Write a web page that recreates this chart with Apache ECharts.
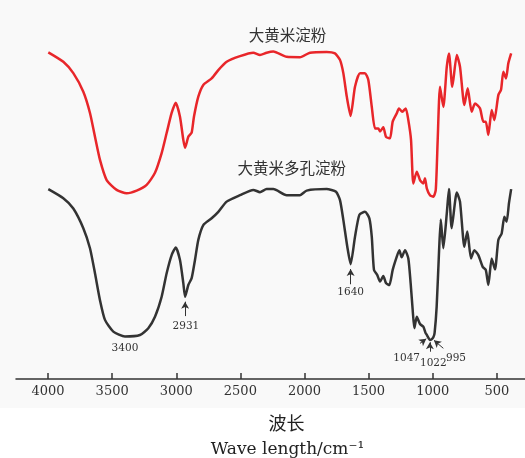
<!DOCTYPE html>
<html>
<head>
<meta charset="utf-8">
<script src="https://cdn.jsdelivr.net/npm/echarts@6/dist/echarts.min.js"></script>
<style>
  html, body { margin: 0; padding: 0; background: #fff; }
  #chart { width: 525px; height: 458px; }
</style>
</head>
<body>
<div id="chart"></div>
<script>
// FTIR spectra: [wavenumber (cm-1), relative transmittance]
const nativeStarch = [
  [3998,86.2],[3881,83.7],[3803,80.7],[3725,75.8],[3673,70.2],[3634,63.9],[3595,57.8],[3543,52.5],
  [3465,49.9],[3387,49.0],[3309,49.7],[3231,51.2],[3166,54.4],[3114,59.6],[3075,64.9],[3036,70.2],
  [3004,72.9],[2971,69.2],[2945,63.1],[2931,61.0],[2906,63.9],[2880,65.0],[2862,69.2],[2828,74.5],
  [2789,77.6],[2724,79.3],[2672,81.5],[2607,83.7],[2503,85.2],[2399,86.1],[2347,85.5],[2295,86.1],
  [2243,86.4],[2139,85.0],[2035,84.9],[1957,86.1],[1827,86.3],[1762,85.9],[1723,84.2],[1697,80.7],
  [1670,74.5],[1640,69.4],[1606,77.1],[1567,80.7],[1528,80.7],[1502,78.9],[1475,71.8],[1450,66.1],
  [1424,66.1],[1411,65.3],[1385,66.4],[1364,63.9],[1333,63.5],[1312,67.9],[1280,70.1],[1263,71.4],
  [1237,70.5],[1210,71.4],[1190,68.3],[1169,63.1],[1151,51.6],[1124,54.7],[1099,52.5],[1073,51.6],
  [1060,53.0],[1046,50.3],[1021,48.5],[995,48.1],[976,49.9],[961,63.1],[943,77.1],[917,71.8],
  [890,82.4],[873,85.9],[847,77.1],[812,85.5],[787,82.4],[753,72.3],[727,76.7],[696,70.5],
  [670,72.7],[631,71.4],[605,67.9],[586,67.9],[566,64.4],[540,71.0],[519,68.3],[488,74.9],
  [467,76.3],[449,81.1],[428,79.3],[410,83.3],[388,85.9]
];

const porousStarch = [
  [3998,50.1],[3881,47.7],[3803,45.0],[3725,39.8],[3673,34.5],[3634,27.9],[3595,20.8],[3556,15.6],
  [3491,12.5],[3400,11.2],[3283,11.6],[3218,13.4],[3166,16.4],[3114,21.7],[3075,27.9],[3036,32.7],
  [3004,34.7],[2971,31.4],[2945,25.3],[2931,21.7],[2906,24.8],[2880,26.6],[2854,31.4],[2828,36.7],
  [2789,40.6],[2724,42.4],[2672,44.1],[2607,46.8],[2503,48.5],[2399,49.9],[2347,49.3],[2295,50.1],
  [2243,50.1],[2139,48.5],[2035,48.5],[1983,49.7],[1827,50.1],[1754,49.4],[1723,47.2],[1697,42.0],
  [1666,34.9],[1640,30.3],[1606,37.5],[1572,43.3],[1528,44.1],[1494,42.4],[1475,37.5],[1458,28.8],
  [1432,27.4],[1411,25.7],[1385,27.2],[1364,25.3],[1338,24.8],[1312,28.8],[1280,32.3],[1260,34.0],
  [1242,32.1],[1216,34.0],[1190,31.8],[1172,25.3],[1156,18.2],[1143,13.4],[1124,16.4],[1099,14.5],
  [1073,13.8],[1055,12.1],[1047,11.7],[1034,10.9],[1022,10.3],[1008,10.5],[995,11.0],[985,12.2],
  [969,19.1],[951,33.2],[937,42.1],[917,34.5],[890,43.7],[873,50.1],[852,39.8],[812,49.2],
  [787,46.8],[753,34.9],[730,38.9],[701,31.8],[675,34.0],[644,32.7],[610,29.6],[586,28.8],
  [566,24.8],[540,31.8],[514,28.9],[488,36.7],[462,38.4],[441,42.8],[423,41.5],[405,46.4],[388,50.1]
];

const wavenumberTicks = [4000, 3500, 3000, 2500, 2000, 1500, 1000, 500];
const seriesNames = ['大黄米淀粉', '大黄米多孔淀粉'];
const porousBands = [3400, 2931, 1640, 1047, 1022, 995];

// Placement of band annotations in data space: label anchor and optional arrow (from -> tip)
const bandLayout = {
  3400: { label: [3400, 8.2] },
  2931: { label: [2925, 13.8], arrow: [[2931, 16.6], [2931, 20.4]] },
  1640: { label: [1640, 22.8], arrow: [[1640, 25.0], [1640, 29.0]] },
  1047: { label: [1203, 5.5], arrow: [[1099, 9.4], [1050, 10.6]] },
  1022: { label: [995, 4.1], arrow: [[1022, 7.2], [1022, 9.7]] },
  995:  { label: [818, 5.5], arrow: [[917, 8.1], [990, 10.2]] }
};

const bandArrows = porousBands
  .filter(b => bandLayout[b].arrow)
  .map(b => [{ coord: bandLayout[b].arrow[0] }, { coord: bandLayout[b].arrow[1] }]);

const bandLabels = porousBands.map(b => ({
  coord: bandLayout[b].label,
  value: b,
  symbol: 'circle',
  symbolSize: 0,
  label: { show: true, position: 'inside', formatter: String(b) }
}));

const chart = echarts.init(document.getElementById('chart'), null, { renderer: 'canvas' });

const option = {
  animation: false,
  backgroundColor: '#f9f9f9',
  grid: { left: 16, right: 0, top: 0, bottom: 79 },
  xAxis: {
    type: 'value',
    inverse: true,
    min: 280,
    max: 4250,
    axisLine: { show: true, lineStyle: { color: '#333', width: 1.5 } },
    axisTick: { show: true, inside: true, length: 6, customValues: wavenumberTicks,
                lineStyle: { color: '#333', width: 1.5 } },
    axisLabel: { show: true, customValues: wavenumberTicks, margin: 6,
                 formatter: v => String(v),
                 fontFamily: 'DejaVu Serif', fontSize: 13, color: '#333' },
    splitLine: { show: false }
  },
  yAxis: {
    type: 'value',
    min: 0,
    max: 100,
    show: false
  },
  graphic: [
    { type: 'rect', z: 0, shape: { x: 0, y: 408, width: 525, height: 50 }, style: { fill: '#ffffff' } },
    { type: 'text', z: 10, x: 287.5, y: 35,
      style: { text: seriesNames[0], fill: '#333', font: '15.5px "Noto Sans CJK SC"', align: 'center', verticalAlign: 'middle' } },
    { type: 'text', z: 10, x: 291.7, y: 168.3,
      style: { text: seriesNames[1], fill: '#333', font: '15.5px "Noto Sans CJK SC"', align: 'center', verticalAlign: 'middle' } },
    { type: 'text', z: 10, x: 286.5, y: 423.5,
      style: { text: '波长', fill: '#222', font: '18px "Noto Sans CJK SC"', align: 'center', verticalAlign: 'middle' } },
    { type: 'text', z: 10, x: 287.5, y: 450,
      style: { text: 'Wave length/cm⁻¹', fill: '#222', font: '17px "DejaVu Serif"', align: 'center', verticalAlign: 'middle' } }
  ],
  series: [
    {
      name: seriesNames[0],
      type: 'line',
      data: nativeStarch,
      showSymbol: false,
      smooth: 0.2,
      lineStyle: { color: '#e8262a', width: 2.5 },
      z: 3
    },
    {
      name: seriesNames[1],
      type: 'line',
      data: porousStarch,
      showSymbol: false,
      smooth: 0.2,
      lineStyle: { color: '#333333', width: 2.5 },
      z: 3,
      markLine: {
        silent: true,
        symbol: ['none', 'arrow'],
        symbolSize: [6, 7],
        label: { show: false },
        lineStyle: { type: 'solid', color: '#333', width: 1 },
        data: bandArrows
      },
      markPoint: {
        silent: true,
        label: { fontFamily: 'DejaVu Serif', fontSize: 10.5, color: '#333' },
        data: bandLabels
      }
    }
  ]
};

chart.setOption(option);
</script>
</body>
</html>
